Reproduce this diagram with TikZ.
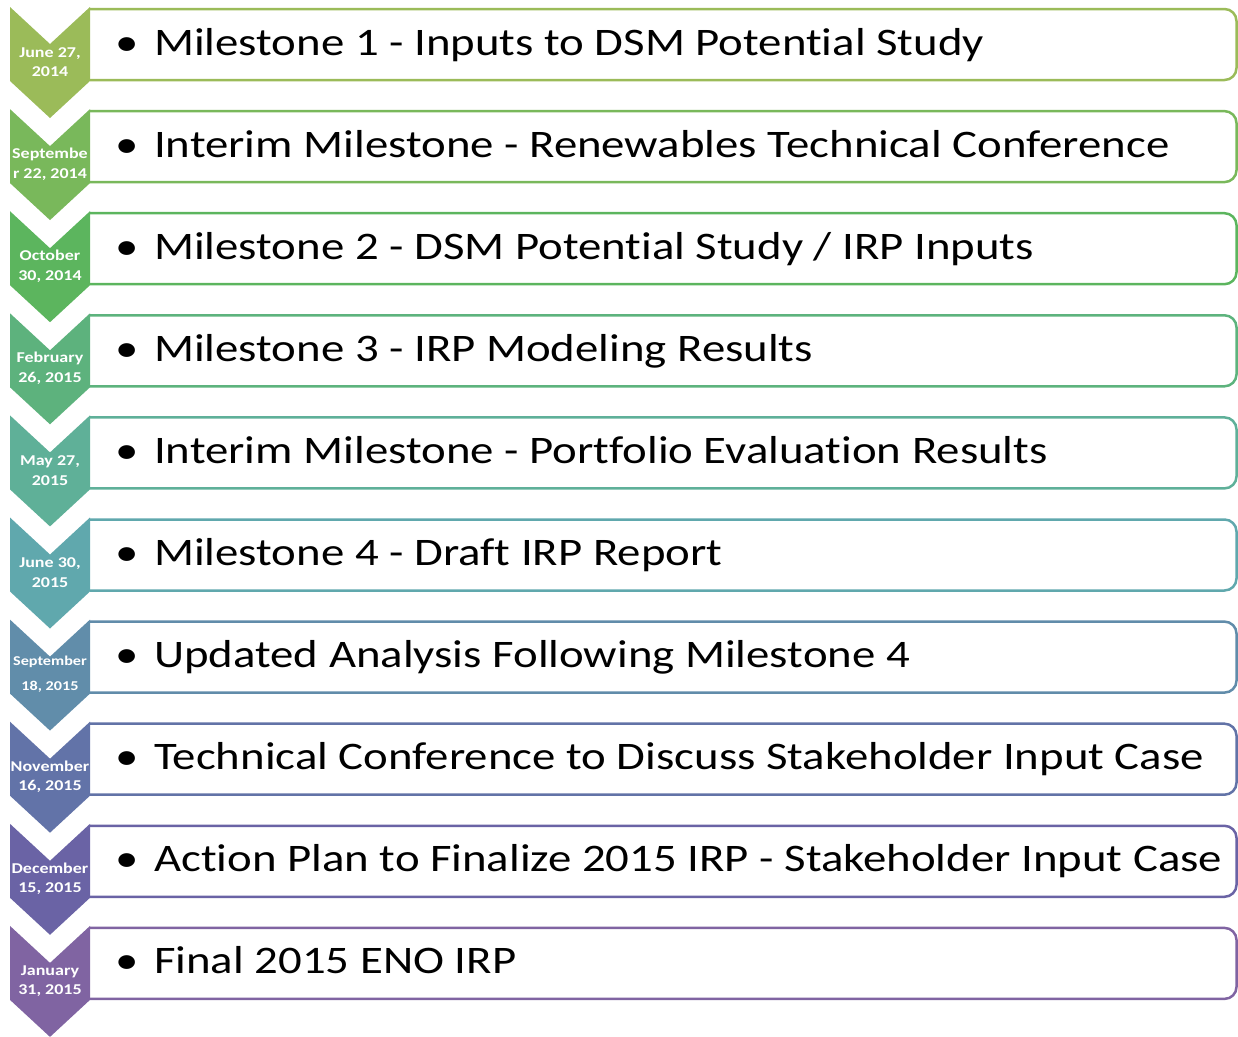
\documentclass[tikz,border=0pt]{standalone}
\usepackage{fontspec}
\setmainfont{Carlito}[FakeStretch=1.2, Ligatures=NoCommon]
\begin{document}
\begin{tikzpicture}[x=1pt,y=-1pt,
  boxline/.style={line width=2.5pt},
  datetext/.style={text=white, align=center, inner sep=0pt},
  itemtext/.style={font=\fontsize{39}{47}\selectfont, inner sep=0pt, text=black},
]
\useasboundingbox (0,0) rectangle (1238,1036);
\foreach \d/\fs/\ls/\m [count=\i from 0] in {
  {June 27,\\2014}/15/19.5/{Milestone 1 - Inputs to DSM Potential Study},
  {Septembe\\r 22, 2014}/15/19.5/{Interim Milestone - Renewables Technical Conference},
  {October\\30, 2014}/15/19.5/{Milestone 2 - DSM Potential Study / IRP Inputs},
  {February\\26, 2015}/15/19.5/{Milestone 3 - IRP Modeling Results},
  {May 27,\\2015}/15/19.5/{Interim Milestone - Portfolio Evaluation Results},
  {June 30,\\2015}/15/19.5/{Milestone 4 - Draft IRP Report},
  {September\\18, 2015}/13.5/25/{Updated Analysis Following Milestone 4},
  {November\\16, 2015}/15/19.5/{Technical Conference to Discuss Stakeholder Input Case},
  {December\\15, 2015}/15/19.5/{Action Plan to Finalize 2015 IRP - Stakeholder Input Case},
  {January\\31, 2015}/15/19.5/{Final 2015 ENO IRP}%
}{
  % row colour: hue sweep from olive green to purple
  \pgfmathsetmacro\hue{79.6+20.8*\i}
  \pgfmathsetmacro\sat{0.524-0.0157*\i}
  \pgfmathsetmacro\bri{0.733-0.0109*\i}
  \definecolor{rowhsb}{Hsb}{\hue,\sat,\bri}
  \colorlet{rowcol}[rgb]{rowhsb}
  \pgfmathsetmacro\ct{7+102.1*\i}
  \pgfmathsetmacro\bt{9+102.1*\i}
  % text panel, rounded on the right side only
  \draw[boxline, draw=rowcol] (90,\bt) [rounded corners=12pt] -- (1236.5,\bt) -- (1236.5,\bt+71) [sharp corners] -- (90,\bt+71);
  % chevron pointing down
  \fill[rowcol] (10,\ct) -- (50,\ct+37) -- (90,\ct) -- (90,\ct+74) -- (50,\ct+111) -- (10,\ct+74) -- cycle;
  \node[datetext, font=\bfseries\fontsize{\fs}{\ls}\selectfont] (d\i) at (50,\ct+55) {\d};
  \node[itemtext, anchor=base] (b\i) at (127,\bt+46) {•};
  \node[itemtext, anchor=base west] (m\i) at (154,\bt+46) {\m};
}
\end{tikzpicture}
\end{document}
